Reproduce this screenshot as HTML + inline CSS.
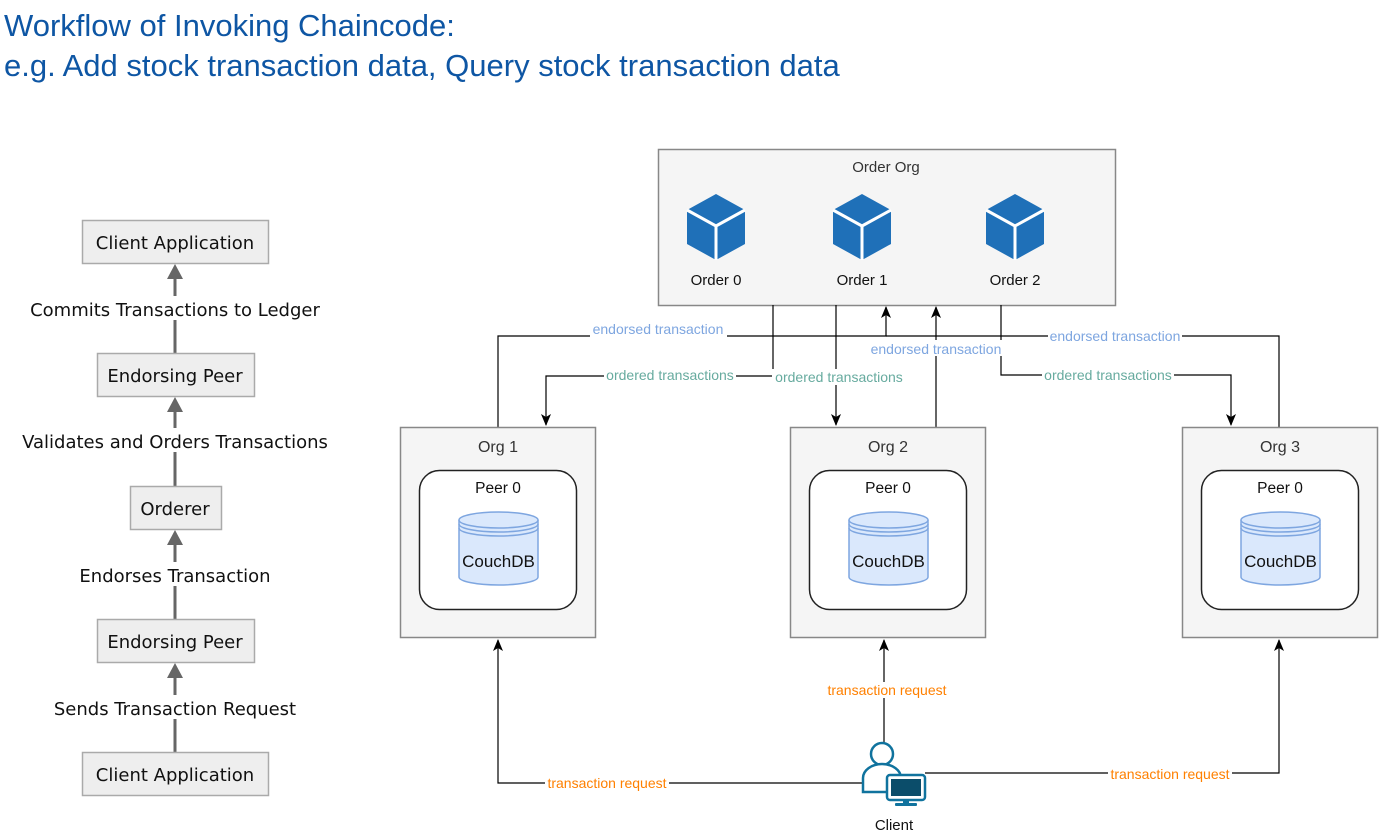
<!DOCTYPE html>
<html><head><meta charset="utf-8"><style>
html,body{margin:0;padding:0;background:#fff;}
svg{display:block;}
.t{font-family:"Liberation Sans",sans-serif;}
.l{font-family:"DejaVu Sans",sans-serif;font-size:18px;fill:#111;text-anchor:middle;}
</style></head><body>
<svg width="1384" height="837" viewBox="0 0 1384 837" xmlns="http://www.w3.org/2000/svg">
<defs>
<marker id="ba" markerWidth="10" markerHeight="12" refX="5" refY="11" markerUnits="userSpaceOnUse" viewBox="0 0 10 12"><path d="M0,0 L5,12 L10,0 L5,3 Z" fill="#000"/></marker>
<marker id="bu" markerWidth="10" markerHeight="12" refX="5" refY="1" markerUnits="userSpaceOnUse" viewBox="0 0 10 12"><path d="M0,12 L5,0 L10,12 L5,9 Z" fill="#000"/></marker>
<g id="cube">
<polygon points="0,-33 29,-17 29,17 0,33 -29,17 -29,-17" fill="#1f70b8"/>
<polyline points="-29,-17 0,-1 29,-17" fill="none" stroke="#fff" stroke-width="3"/>
<line x1="0" y1="-1" x2="0" y2="33" stroke="#fff" stroke-width="3"/>
</g>
<g id="org">
<rect x="0.5" y="0.5" width="195" height="210" fill="#f5f5f5" stroke="#888" stroke-width="1.5"/>
<rect x="19.5" y="43.5" width="157" height="139" rx="20" fill="#fff" stroke="#222" stroke-width="1.5"/>
<text x="98" y="66" class="t" font-size="15.5" text-anchor="middle" fill="#111">Peer 0</text>
<path d="M59,93 V150 A39.5,8 0 0 0 138,150 V93" fill="#dae8fc" stroke="#7ea6e0" stroke-width="1.5"/>
<ellipse cx="98.5" cy="93" rx="39.5" ry="8" fill="#dae8fc" stroke="#7ea6e0" stroke-width="1.5"/>
<path d="M59,97 A39.5,8 0 0 0 138,97 M59,101 A39.5,8 0 0 0 138,101" fill="none" stroke="#7ea6e0" stroke-width="1.5"/>
<text x="98.5" y="140" class="t" font-size="17" text-anchor="middle" fill="#111">CouchDB</text>
</g>
</defs>

<text x="4" y="36" class="t" font-size="31" fill="#0e56a4">Workflow of Invoking Chaincode:</text>
<text x="4" y="76" class="t" font-size="31" fill="#0e56a4">e.g. Add stock transaction data, Query stock transaction data</text>

<!-- left flow -->
<g stroke="#666" stroke-width="3" fill="none">
<line x1="175" y1="752" x2="175" y2="675"/>
<line x1="175" y1="619" x2="175" y2="542"/>
<line x1="175" y1="486" x2="175" y2="410"/>
<line x1="175" y1="353" x2="175" y2="276"/>
</g>
<g fill="#666">
<polygon points="167,678 175,663 183,678"/>
<polygon points="167,545 175,530 183,545"/>
<polygon points="167,412 175,397 183,412"/>
<polygon points="167,279 175,264 183,279"/>
</g>
<g fill="#eee" stroke="#aaa" stroke-width="1.5">
<rect x="82.5" y="220.5" width="186" height="43"/>
<rect x="97.5" y="353.5" width="157" height="43"/>
<rect x="130.5" y="486.5" width="91" height="43"/>
<rect x="97.5" y="619.5" width="157" height="43"/>
<rect x="82.5" y="752.5" width="186" height="43"/>
</g>
<g class="l">
<rect x="20" y="296" width="310" height="24" fill="#fff"/>
<rect x="15" y="428" width="320" height="24" fill="#fff"/>
<rect x="75" y="562" width="200" height="24" fill="#fff"/>
<rect x="50" y="695" width="250" height="24" fill="#fff"/>
<text x="175" y="249" class="l">Client Application</text>
<text x="175" y="382" class="l">Endorsing Peer</text>
<text x="175" y="515" class="l">Orderer</text>
<text x="175" y="648" class="l">Endorsing Peer</text>
<text x="175" y="781" class="l">Client Application</text>
<text x="175" y="316" class="l">Commits Transactions to Ledger</text>
<text x="175" y="448" class="l">Validates and Orders Transactions</text>
<text x="175" y="582" class="l">Endorses Transaction</text>
<text x="175" y="715" class="l">Sends Transaction Request</text>
</g>

<!-- Order org -->
<rect x="658.5" y="149.5" width="457" height="156" fill="#f5f5f5" stroke="#888" stroke-width="1.5"/>
<text x="886" y="172" class="t" font-size="15" text-anchor="middle" fill="#333">Order Org</text>
<use href="#cube" x="716" y="227"/>
<use href="#cube" x="862" y="227"/>
<use href="#cube" x="1015" y="227"/>
<text x="716" y="285" class="t" font-size="15" text-anchor="middle" fill="#111">Order 0</text>
<text x="862" y="285" class="t" font-size="15" text-anchor="middle" fill="#111">Order 1</text>
<text x="1015" y="285" class="t" font-size="15" text-anchor="middle" fill="#111">Order 2</text>

<!-- connectors -->
<g stroke="#000" stroke-width="1.2" fill="none">
<polyline points="498,427 498,336 886,336 886,307" marker-end="url(#bu)"/>
<polyline points="1279,427 1279,336 886,336"/>
<polyline points="936,427 936,307" marker-end="url(#bu)"/>
<polyline points="773,305 773,376 546,376 546,425" marker-end="url(#ba)"/>
<polyline points="836,305 836,425" marker-end="url(#ba)"/>
<polyline points="1001,305 1001,375 1231,375 1231,425" marker-end="url(#ba)"/>
<polyline points="884,745 884,640" marker-end="url(#bu)"/>
<polyline points="862,783 498,783 498,640" marker-end="url(#bu)"/>
<polyline points="925,773 1279,773 1279,640" marker-end="url(#bu)"/>
</g>
<g class="t" font-size="14" text-anchor="middle">
<rect x="590" y="321" width="137" height="16" fill="#fff"/>
<text x="658" y="334" fill="#7ea6e0">endorsed transaction</text>
<rect x="1048" y="328" width="134" height="16" fill="#fff"/>
<text x="1115" y="341" fill="#7ea6e0">endorsed transaction</text>
<rect x="868" y="340" width="136" height="16" fill="#fff"/>
<text x="936" y="354" fill="#7ea6e0">endorsed transaction</text>
<rect x="604" y="367" width="132" height="16" fill="#fff"/>
<text x="670" y="380" fill="#67ab9f">ordered transactions</text>
<rect x="772" y="369" width="134" height="16" fill="#fff"/>
<text x="839" y="382" fill="#67ab9f">ordered transactions</text>
<rect x="1042" y="367" width="132" height="16" fill="#fff"/>
<text x="1108" y="380" fill="#67ab9f">ordered transactions</text>
<rect x="825" y="682" width="124" height="16" fill="#fff"/>
<text x="887" y="695" fill="#ff8000">transaction request</text>
<rect x="545" y="775" width="124" height="16" fill="#fff"/>
<text x="607" y="788" fill="#ff8000">transaction request</text>
<rect x="1108" y="766" width="124" height="16" fill="#fff"/>
<text x="1170" y="779" fill="#ff8000">transaction request</text>
</g>

<use href="#org" x="400" y="427"/>
<use href="#org" x="790" y="427"/>
<use href="#org" x="1182" y="427"/>
<g class="t" font-size="16" text-anchor="middle" fill="#333">
<text x="498" y="452">Org 1</text>
<text x="888" y="452">Org 2</text>
<text x="1280" y="452">Org 3</text>
</g>

<!-- client icon -->
<g stroke="#10739e" stroke-width="2.5" fill="#fff">
<circle cx="882" cy="754" r="11"/>
<path d="M863,792 V778 A19,14 0 0 1 901,778 V792 Z"/>
<rect x="887" y="775" width="38" height="25" rx="3" fill="#fff"/>
</g>
<rect x="891" y="779" width="30" height="17" fill="#0b4d6a"/>
<rect x="903" y="800" width="6" height="3" fill="#10739e"/>
<rect x="895" y="803" width="22" height="3" rx="1" fill="#10739e"/>
<text x="894" y="830" class="t" font-size="15" text-anchor="middle" fill="#111">Client</text>
</svg>
</body></html>
